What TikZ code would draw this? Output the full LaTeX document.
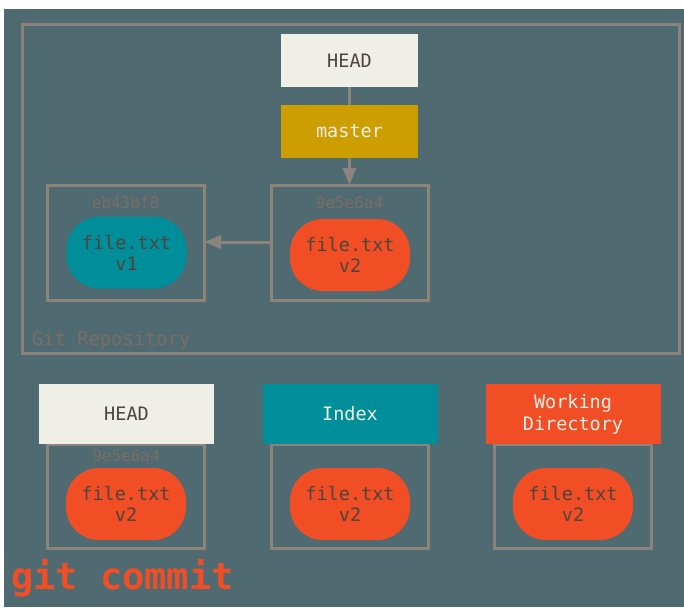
\documentclass[tikz,border=0pt]{standalone}
\usepackage{fontspec}
\setmainfont{DejaVu Sans Mono}
\usetikzlibrary{arrows.meta}
\definecolor{bgc}{RGB}{79,106,113}
\definecolor{edgec}{RGB}{140,132,123}
\definecolor{creamc}{RGB}{240,239,231}
\definecolor{goldc}{RGB}{204,158,0}
\definecolor{tealc}{RGB}{0,143,154}
\definecolor{orangec}{RGB}{242,78,38}
\definecolor{darktxt}{RGB}{78,68,60}
\definecolor{hashtxt}{RGB}{122,110,100}
\tikzset{
  every node/.style={inner sep=0pt, outer sep=0pt, font=\fontsize{18.5}{22}\selectfont},
  refbox/.style={fill=#1, minimum width=137pt, minimum height=53pt, align=center},
  areabox/.style={fill=#1, minimum width=175pt, minimum height=60pt, align=center},
  framebox/.style={draw=edgec, line width=3pt, minimum width=157pt},
  blob/.style={fill=#1, rounded corners=33pt, minimum width=120pt, minimum height=72pt, align=center, text=darktxt, font=\fontsize{18.5}{21}\selectfont},
  hashlbl/.style={text=hashtxt, font=\fontsize{16}{18}\selectfont},
  conn/.style={draw=edgec, line width=3pt},
  arr/.style={conn, -{Triangle[width=13pt,length=17pt]}},
}
\begin{document}
\begin{tikzpicture}[x=1pt,y=-1pt]
\useasboundingbox (0,0) rectangle (684,607);
\fill[white] (0,0) rectangle (684,607);
\fill[bgc] (4,9) rectangle (684,607);
% repository frame
\draw[edgec, line width=3pt] (22,25) rectangle (679,353);
\node[anchor=west, text=hashtxt, font=\fontsize{18.8}{22}\selectfont] (repo) at (32,340) {Git Repository};
% top refs
\node[refbox=creamc, text=darktxt] (head) at (349.5,60.5) {HEAD};
\node[refbox=goldc, text=creamc] (master) at (349.5,131.5) {master};
% commits
\node[framebox, minimum height=115pt] (c2) at (349.5,242.5) {};
\node[framebox, minimum height=115pt] (c1) at (125.5,242.5) {};
\node[hashlbl] (h2) at (349.5,203) {9e5e6a4};
\node[hashlbl] (h1) at (125.5,203) {eb43bf8};
\node[blob=orangec] (f2) at (350,255) {file.txt\\v2};
\node[blob=tealc] (f1) at (126.5,252.5) {file.txt\\v1};
\draw[conn] (head.south) -- (master.north);
\draw[arr] (master.south) -- (c2.north);
\draw[arr] (c2.west |- 0,242) -- (c1.east |- 0,242);
% bottom areas
\node[framebox, minimum height=104pt] (bh) at (126,496) {};
\node[framebox, minimum height=104pt] (bi) at (349.5,496) {};
\node[framebox, minimum height=104pt] (bw) at (572.5,496) {};
\node[areabox=creamc, text=darktxt] (ahead) at (126.5,414) {HEAD};
\node[areabox=tealc, text=creamc] (aindex) at (350,414) {Index};
\node[areabox=orangec, text=creamc, font=\fontsize{18.5}{22}\selectfont] (awd) at (573,414) {Working\\Directory};
\node[hashlbl] (h3) at (126,456) {9e5e6a4};
\node[blob=orangec] (f3) at (126,504) {file.txt\\v2};
\node[blob=orangec] (f4) at (350,504) {file.txt\\v2};
\node[blob=orangec] (f5) at (573,504) {file.txt\\v2};
% command
\node[anchor=west, text=orangec, font=\fontsize{37}{40}\bfseries] (cmd) at (11,578) {git commit};
\end{tikzpicture}
\end{document}
